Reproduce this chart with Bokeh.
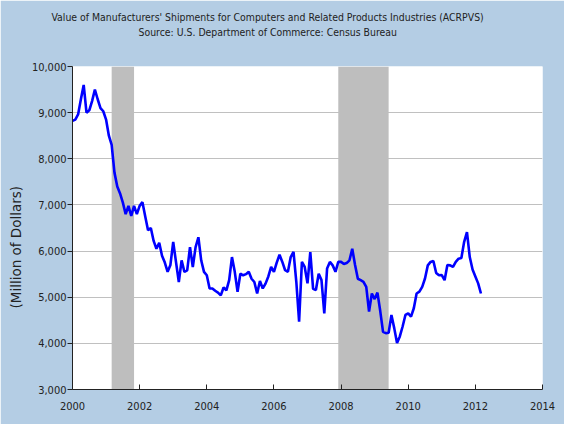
import numpy as np
from bokeh.plotting import figure
from bokeh.models import FixedTicker, NumeralTickFormatter, Title, Range1d
from bokeh.embed import file_html
from bokeh.resources import INLINE

# ---- data (Million of Dollars, monthly, Jan 2000 - Mar 2012) ----
start_year = 2000
v2000 = [8820, 8850, 8960, 9290, 9600, 9000, 9050, 9250, 9500, 9290, 9100, 9030]
v2001 = [8850, 8500, 8300, 7700, 7400, 7250, 7050, 6800, 6980, 6760, 6980, 6800]
v2002 = [6980, 7060, 6750, 6450, 6500, 6220, 6050, 6180, 5900, 5750, 5550, 5700]
v2003 = [6200, 5760, 5330, 5800, 5550, 5580, 6085, 5655, 6085, 6300, 5800, 5550]
v2004 = [5475, 5190, 5190, 5140, 5100, 5040, 5210, 5150, 5370, 5870, 5550, 5115]
v2005 = [5510, 5475, 5500, 5550, 5400, 5330, 5080, 5350, 5190, 5295, 5450, 5655]
v2006 = [5550, 5750, 5920, 5765, 5585, 5550, 5870, 5980, 5335, 4470, 5765, 5655]
v2007 = [5300, 5980, 5180, 5155, 5510, 5370, 4650, 5620, 5765, 5690, 5550, 5765]
v2008 = [5765, 5720, 5740, 5800, 6050, 5700, 5400, 5370, 5335, 5225, 4690, 5080]
v2009 = [4960, 5100, 4700, 4250, 4220, 4230, 4615, 4330, 4010, 4150, 4365, 4615]
v2010 = [4650, 4580, 4760, 5080, 5120, 5225, 5405, 5690, 5765, 5785, 5525, 5475]
v2011 = [5480, 5370, 5700, 5690, 5655, 5765, 5835, 5850, 6200, 6410, 5870, 5600]
v2012 = [5450, 5300, 5080]

values = v2000 + v2001 + v2002 + v2003 + v2004 + v2005 + v2006 + v2007 + v2008 + v2009 + v2010 + v2011 + v2012
x_years = start_year + np.arange(len(values)) / 12.0

# recessions (start, end) in decimal years
rec_start = [2001 + 2 / 12, 2007 + 11 / 12]
rec_end = [2001 + 10 / 12, 2009 + 5 / 12]

x_ticks = [2000, 2002, 2004, 2006, 2008, 2010, 2012, 2014]
y_ticks = [3000, 4000, 5000, 6000, 7000, 8000, 9000, 10000]
X_MIN, X_MAX = 2000, 2014
Y_MIN, Y_MAX = 3000, 10000

title1 = "Value of Manufacturers' Shipments for Computers and Related Products Industries (ACRPVS)"
title2 = "Source: U.S. Department of Commerce: Census Bureau"
y_label = "(Million of Dollars)"

BG = "#B4CDE4"
TITLE_FONT = "DejaVu Sans Condensed"
TICK_FONT = "DejaVu Sans Condensed"
TXT = "#222222"

p = figure(width=564, height=424, output_backend="svg", toolbar_location=None,
           x_range=Range1d(X_MIN, X_MAX), y_range=Range1d(Y_MIN, Y_MAX),
           min_border_left=71, min_border_right=22, min_border_top=66, min_border_bottom=35,
           background_fill_color="white", border_fill_color=BG, outline_line_color=None)

# main title line (outermost panel)
p.title.text = title1
p.title.text_font = TITLE_FONT
p.title.text_font_size = "10.4px"
p.title.text_font_style = "normal"
p.title.text_color = TXT
p.title.align = "left"
p.title.offset = -21
p.title.standoff = 2

# spacer panel next to the frame, then the source line
p.add_layout(Title(text=" ", text_font=TITLE_FONT, text_font_size="10.4px",
                   standoff=15), "above")
p.add_layout(Title(text=title2, text_font=TITLE_FONT, text_font_size="10.4px",
                   text_font_style="normal", text_color=TXT,
                   align="left", offset=66, standoff=0), "above")

# y-axis label as a left-side title
p.add_layout(Title(text=y_label, text_font="DejaVu Sans", text_font_size="13.5px",
                   text_font_style="normal", text_color=TXT,
                   align="left", offset=81, standoff=10), "left")

p.quad(left=rec_start, right=rec_end, bottom=Y_MIN, top=Y_MAX,
       fill_color="#BEBEBE", line_color=None)
p.line(x_years, values, line_color="#0000FF", line_width=2.6)

p.xgrid.grid_line_color = None
p.ygrid.grid_line_color = "#C0C0C0"
p.ygrid.grid_line_width = 1

xa = p.xaxis[0]
xa.ticker = FixedTicker(ticks=x_ticks)
xa.major_tick_in = 5
xa.major_tick_out = 0
xa.minor_tick_line_color = None
xa.axis_line_color = TXT
xa.major_tick_line_color = TXT
xa.major_label_text_font = TICK_FONT
xa.major_label_text_font_size = "11px"
xa.major_label_text_color = TXT
xa.major_label_standoff = 12

ya = p.yaxis[0]
ya.ticker = FixedTicker(ticks=y_ticks)
ya.formatter = NumeralTickFormatter(format="0,0")
ya.major_tick_in = 0
ya.major_tick_out = 5
ya.minor_tick_line_color = None
ya.axis_line_color = TXT
ya.major_tick_line_color = TXT
ya.major_label_text_font = TICK_FONT
ya.major_label_text_font_size = "11px"
ya.major_label_text_color = TXT
ya.major_label_standoff = 1

open("out.html", "w").write(file_html(p, INLINE))
